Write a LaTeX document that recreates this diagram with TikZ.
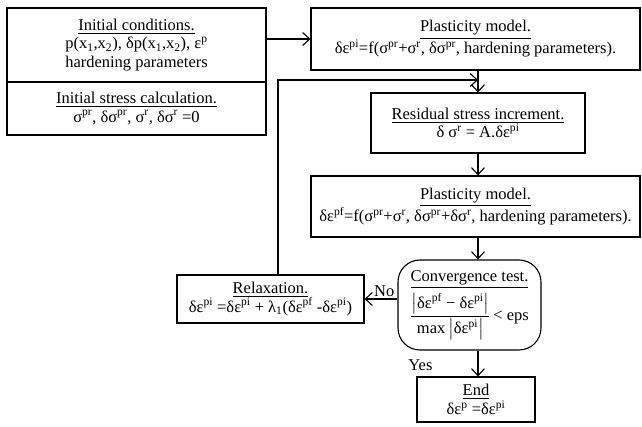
\documentclass[tikz,border=0pt]{standalone}
\usepackage{fontspec}
\usepackage{amsmath}
\setmainfont{Liberation Serif}
\usetikzlibrary{arrows.meta,calc}
\newcommand{\sps}[1]{\textsuperscript{#1}}
\newcommand{\sbs}[1]{\textsubscript{#1}}
\begin{document}
\begin{tikzpicture}[x=1pt,y=-1pt,
  box/.style={draw,line width=1.1pt,align=center,inner sep=2pt,font=\fontsize{16.5}{18.5}\selectfont},
  arr/.style={line width=1.1pt,-{Straight Barb[length=7pt,width=13pt,line width=1.1pt]}},
  lbl/.style={font=\fontsize{16.5}{18.5}\selectfont,inner sep=1pt}]
\useasboundingbox[fill=white] (0,0) rectangle (642,427);
% boxes
\node[box,minimum width=259pt,minimum height=74pt] (init) at (136.5,45)
  {\underline{Initial conditions.}\\
   p(x\sbs{1},x\sbs{2}), δp(x\sbs{1},x\sbs{2}), ε\sps{p}\\
   hardening parameters};
\node[box,minimum width=259pt,minimum height=53pt] (stress) at (136.5,108.5)
  {\underline{Initial stress calculation.}\\
   σ\sps{pr}, δσ\sps{pr}, σ\sps{r}, δσ\sps{r} =0};
\node[box,minimum width=329pt,minimum height=62pt] (plast1) at (475.5,39)
  {\underline{Plasticity model.}\\
   δε\sps{pi}=f(σ\sps{pr}+σ\sps{r}, δσ\sps{pr}, hardening parameters).};
\node[box,minimum width=214pt,minimum height=60pt] (resid) at (478,123)
  {\underline{Residual stress increment.}\\
   δ σ\sps{r} = A.δε\sps{pi}};
\node[box,minimum width=329pt,minimum height=61pt] (plast2) at (475.5,206.5)
  {\underline{Plasticity model.}\\
   δε\sps{pf}=f(σ\sps{pr}+σ\sps{r}, δσ\sps{pr}+δσ\sps{r}, hardening parameters).};
\node[box,rounded corners=22pt,minimum width=143pt,minimum height=90pt] (conv) at (469.5,305)
  {\underline{Convergence test.}\\[4pt]
   $\dfrac{\left|\text{δε\sps{pf} − δε\sps{pi}}\right|}{\text{max}\left|\text{δε\sps{pi}}\right|}$\,< eps};
\node[box,minimum width=187pt,minimum height=48pt] (relax) at (270.5,299)
  {\underline{Relaxation.}\\
   δε\sps{pi} =δε\sps{pi} + λ\sbs{1}(δε\sps{pf} -δε\sps{pi})};
\node[box,minimum width=118pt,minimum height=45pt] (end) at (476,399.5)
  {\underline{End}\\
   δε\sps{p} =δε\sps{pi}};
% helper coordinates
\coordinate (sx) at (478,0);
\coordinate (fb) at (278,80);
% connectors
\draw[arr] (init.east |- plast1.west) -- (plast1.west);
\draw[arr] (plast1.south -| sx) -- (resid.north -| sx);
\draw[arr] (resid.south -| sx) -- (plast2.north -| sx);
\draw[arr] (plast2.south -| sx) -- (conv.north -| sx);
\draw[arr] (conv.west |- relax.east) -- node[lbl,above=1pt,pos=0.4]{No} (relax.east);
\draw[arr] (conv.south -| sx) -- node[lbl,anchor=east,pos=0.55,xshift=-44pt]{Yes} (end.north -| sx);
\draw[arr] (relax.north -| fb) -- (fb) -- (fb -| sx);
\end{tikzpicture}
\end{document}
